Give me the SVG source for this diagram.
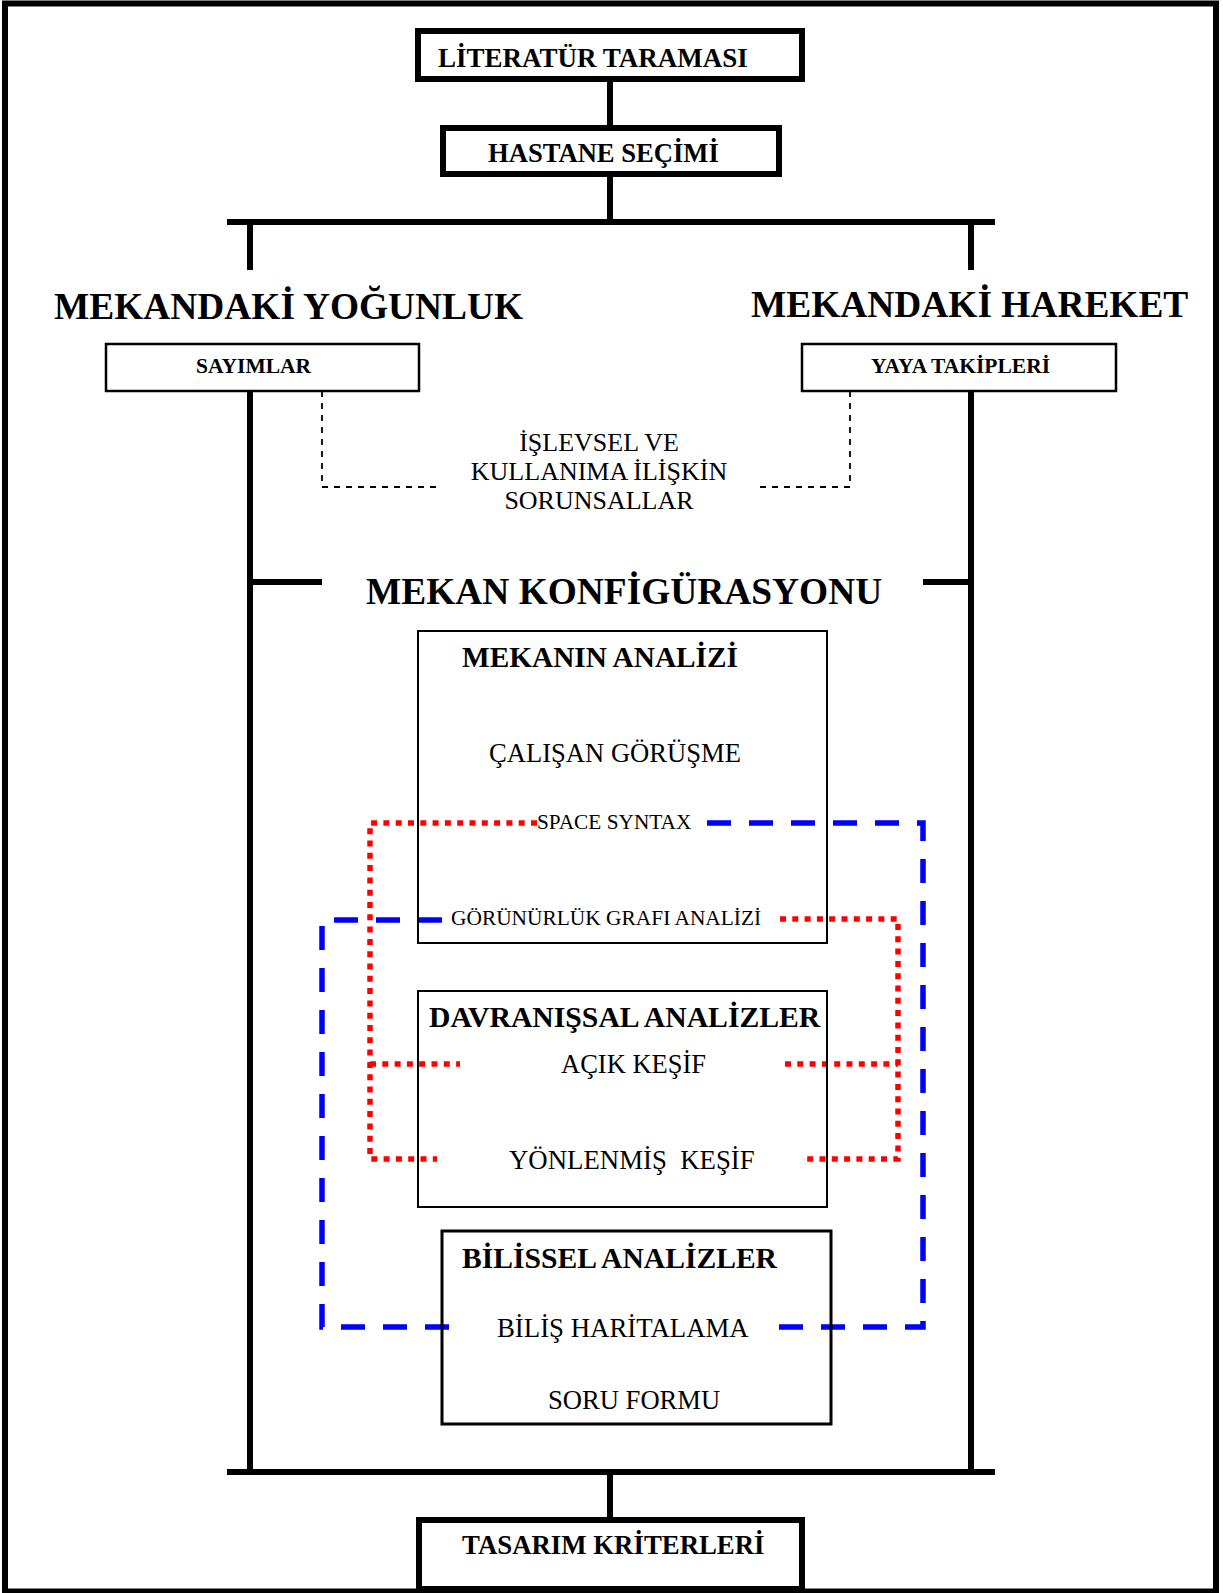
<svg xmlns="http://www.w3.org/2000/svg" width="1223" height="1593" viewBox="0 0 1223 1593">
<style>
.b{font-family:"Liberation Serif","Times New Roman",serif;font-weight:bold;fill:#000}
.r{font-family:"Liberation Serif","Times New Roman",serif;font-weight:normal;fill:#000}
.thick{fill:none;stroke:#000;stroke-width:6}
.box{fill:none;stroke:#000;stroke-width:2}
.box25{fill:none;stroke:#000;stroke-width:2.5}
.box3{fill:none;stroke:#000;stroke-width:3}
.line{fill:none;stroke:#000;stroke-width:6}
.thin{fill:none;stroke:#000;stroke-width:1.8;stroke-dasharray:6 6}
.red{fill:none;stroke:#ff0000;stroke-width:5.5;stroke-dasharray:6 6.3}
.blue{fill:none;stroke:#0000ff;stroke-width:5.5;stroke-dasharray:24 18}
</style>
<rect x="0" y="0" width="1223" height="1593" fill="#fff"/>
<rect id="frame" x="5" y="3.5" width="1211" height="1588" class="thick"/>

<g id="connectors">
  <line x1="610" y1="81" x2="610" y2="128" class="line"/>
  <line x1="610" y1="174" x2="610" y2="222" class="line"/>
  <line x1="227" y1="222" x2="995" y2="222" class="line"/>
  <line x1="250" y1="222" x2="250" y2="270" class="line"/>
  <line x1="971" y1="222" x2="971" y2="270" class="line"/>
  <line x1="250" y1="391" x2="250" y2="1472" class="line"/>
  <line x1="971" y1="391" x2="971" y2="1472" class="line"/>
  <line x1="250" y1="582" x2="322" y2="582" class="line"/>
  <line x1="923" y1="582" x2="971" y2="582" class="line"/>
  <line x1="227" y1="1472" x2="995" y2="1472" class="line"/>
  <line x1="610" y1="1472" x2="610" y2="1520" class="line"/>
  <path d="M322,391 V487 H442" class="thin"/>
  <path d="M850,391 V487 H758" class="thin"/>
  <path d="M537,823 H370 V1159 H437" class="red"/>
  <path d="M370,1064 H460" class="red"/>
  <path d="M780,919 H898 V1159 H803" class="red"/>
  <path d="M785,1064 H898" class="red"/>
  <path d="M442,920 H322 V1327 H465" class="blue"/>
  <path d="M707,823 H923 V1327 H779" class="blue"/>
</g>

<g id="literatur">
  <rect x="418" y="31" width="384" height="48" class="thick"/>
  <text x="438" y="67" class="b" font-size="27">LİTERATÜR TARAMASI</text>
</g>
<g id="hastane">
  <rect x="443" y="128" width="336" height="46" class="thick"/>
  <text x="488" y="162" class="b" font-size="26.6">HASTANE SEÇİMİ</text>
</g>
<g id="yogunluk">
  <text x="54" y="319" class="b" font-size="37.4">MEKANDAKİ YOĞUNLUK</text>
</g>
<g id="hareket">
  <text x="751" y="317" class="b" font-size="37.4">MEKANDAKİ HAREKET</text>
</g>
<g id="sayimlar">
  <rect x="106" y="344" width="313" height="47" class="box25"/>
  <text x="196" y="373" class="b" font-size="21.5">SAYIMLAR</text>
</g>
<g id="yaya">
  <rect x="802" y="344" width="314" height="47" class="box25"/>
  <text x="871" y="373" class="b" font-size="21.5">YAYA TAKİPLERİ</text>
</g>
<g id="sorunsallar">
  <text x="599" y="451" class="r" font-size="26" text-anchor="middle">İŞLEVSEL VE</text>
  <text x="599" y="480" class="r" font-size="26" text-anchor="middle">KULLANIMA İLİŞKİN</text>
  <text x="599" y="509" class="r" font-size="26" text-anchor="middle">SORUNSALLAR</text>
</g>
<g id="konfigurasyon">
  <text x="366" y="604" class="b" font-size="37.4">MEKAN KONFİGÜRASYONU</text>
</g>
<g id="mekanin">
  <rect x="418" y="631" width="409" height="312" class="box"/>
  <text x="462" y="667" class="b" font-size="29.3">MEKANIN ANALİZİ</text>
  <text x="489" y="762" class="r" font-size="26.6">ÇALIŞAN GÖRÜŞME</text>
  <text x="537" y="829" class="r" font-size="21.3">SPACE SYNTAX</text>
  <text x="451" y="925" class="r" font-size="21.4">GÖRÜNÜRLÜK GRAFI ANALİZİ</text>
</g>
<g id="davranissal">
  <rect x="418" y="991" width="409" height="216" class="box"/>
  <text x="429" y="1027" class="b" font-size="29.7">DAVRANIŞSAL ANALİZLER</text>
  <text x="561" y="1073" class="r" font-size="26.5">AÇIK KEŞİF</text>
  <text x="509" y="1169" class="r" font-size="26.8" xml:space="preserve">YÖNLENMİŞ  KEŞİF</text>
</g>
<g id="bilissel">
  <rect x="442" y="1231" width="389" height="193" class="box3"/>
  <text x="462" y="1268" class="b" font-size="29.6">BİLİSSEL ANALİZLER</text>
  <text x="497" y="1337" class="r" font-size="26.8">BİLİŞ HARİTALAMA</text>
  <text x="548" y="1409" class="r" font-size="26.6">SORU FORMU</text>
</g>
<g id="tasarim">
  <rect x="419" y="1520" width="383" height="69" class="thick"/>
  <text x="462" y="1554" class="b" font-size="26.8">TASARIM KRİTERLERİ</text>
</g>
</svg>
